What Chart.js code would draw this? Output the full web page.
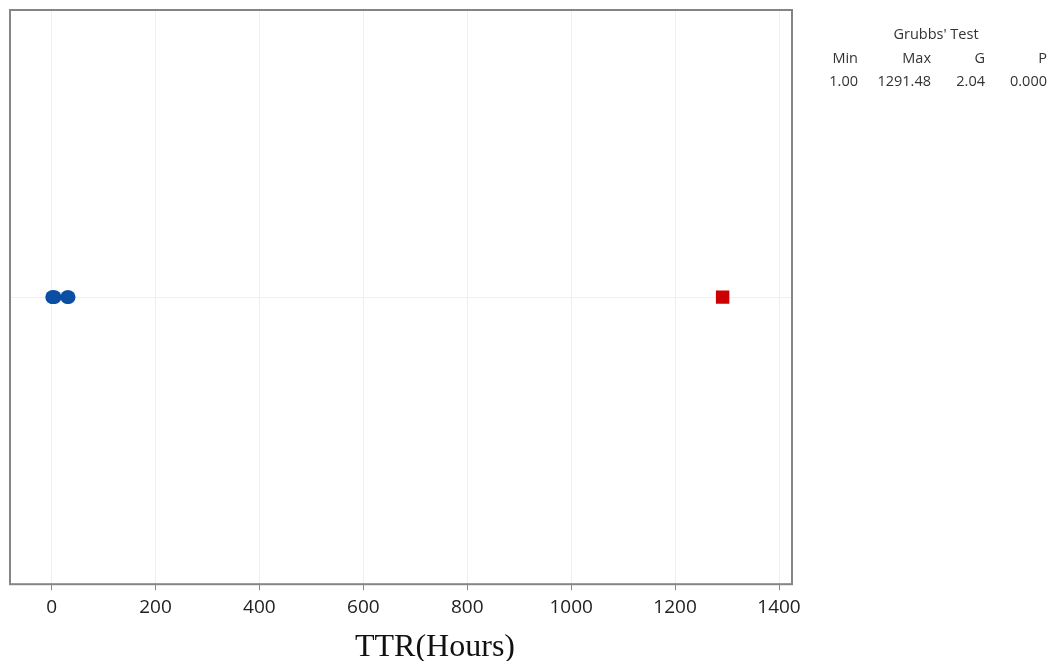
<!DOCTYPE html>
<html>
<head>
<meta charset="utf-8">
<script src="https://cdn.jsdelivr.net/npm/chart.js@4.4.1/dist/chart.umd.min.js"></script>
<style>
  html, body { margin: 0; padding: 0; background: #fff; }
  #wrap { position: relative; width: 1054px; height: 661px; }
  #wrap canvas { position: absolute; left: 0; top: 0; }
  .stat { position: absolute; font-family: "Open Sans", sans-serif; font-size: 14.5px; color: #333; line-height: 18px; white-space: nowrap; }
  .xtitle { position: absolute; left: 435px; top: 629px; transform: translateX(-50%);
            font-family: "Liberation Serif", "Times New Roman", serif; font-size: 32px; line-height: 32px; color: #111; white-space: nowrap; }
</style>
</head>
<body>
<div id="wrap">
  <canvas id="grubbsChart" width="1054" height="661"></canvas>
  <div class="xtitle">TTR(Hours)</div>
</div>
<script>
// TTR values in hours, the outlier flagged by Grubbs' test kept apart
const ttrHours = [1.0, 3.0, 6.0, 30.0, 33.0];
const outlierHours = [1291.48];
const xTickValues = [0, 200, 400, 600, 800, 1000, 1200, 1400];

// Grubbs' test summary
const statHeaders = ['Min', 'Max', 'G', 'P'];
const statValues = ['1.00', '1291.48', '2.04', '0.000'];
const statRightEdges = [858, 931, 985, 1047];

const wrap = document.getElementById('wrap');
function addText(txt, css) {
    const d = document.createElement('div');
    d.className = 'stat';
    d.textContent = txt;
    Object.assign(d.style, css);
    wrap.appendChild(d);
}
addText("Grubbs' Test", { left: '936px', top: '25px', transform: 'translateX(-50%)' });
statHeaders.forEach((h, i) => addText(h, { right: (1054 - statRightEdges[i]) + 'px', top: '49px' }));
statValues.forEach((v, i) => addText(v, { right: (1054 - statRightEdges[i]) + 'px', top: '72px' }));

// grey box round the plot area
const frame = {
    id: 'frame',
    afterDraw(chart) {
        const a = chart.chartArea;
        const ctx = chart.ctx;
        ctx.save();
        ctx.strokeStyle = '#858585';
        ctx.lineWidth = 2;
        ctx.strokeRect(a.left, a.top, a.right - a.left, a.bottom - a.top);
        ctx.restore();
    }
};

const data = {
    datasets: [
        {
            label: 'TTR',
            data: ttrHours.map(v => ({ x: v, y: 1 })),
            backgroundColor: '#0a4fa3',
            borderColor: '#0a4fa3',
            pointStyle: 'circle',
            pointRadius: 6.8,
            borderWidth: 0
        },
        {
            label: 'Outlier',
            data: outlierHours.map(v => ({ x: v, y: 1 })),
            backgroundColor: '#cc0000',
            borderColor: '#cc0000',
            pointStyle: 'rect',
            pointRadius: 9.5,
            borderWidth: 0
        }
    ]
};

const config = {
    type: 'scatter',
    data: data,
    options: {
        responsive: false,
        animation: false,
        layout: { padding: { left: 10, top: 10, right: 262, bottom: 36 } },
        plugins: {
            legend: { display: false },
            tooltip: { enabled: false }
        },
        scales: {
            x: {
                min: -80,
                max: 1425,
                afterBuildTicks: s => { s.ticks = xTickValues.map(v => ({ value: v })); },
                border: { display: false },
                grid: { color: '#efefef', tickColor: '#888', tickLength: 6, lineWidth: 1 },
                ticks: {
                    padding: 6,
                    color: '#222',
                    font: { family: 'Open Sans', size: 19 },
                    callback: v => String(v)
                }
            },
            y: {
                min: 0,
                max: 2,
                afterFit: s => { s.width = 0; },
                border: { display: false },
                grid: {
                    drawTicks: false,
                    color: c => c.tick.value === 1 ? '#efefef' : 'rgba(0,0,0,0)'
                },
                ticks: { display: false, stepSize: 1 }
            }
        }
    },
    plugins: [frame]
};

const grubbsChart = new Chart(document.getElementById('grubbsChart'), config);
</script>
</body>
</html>
